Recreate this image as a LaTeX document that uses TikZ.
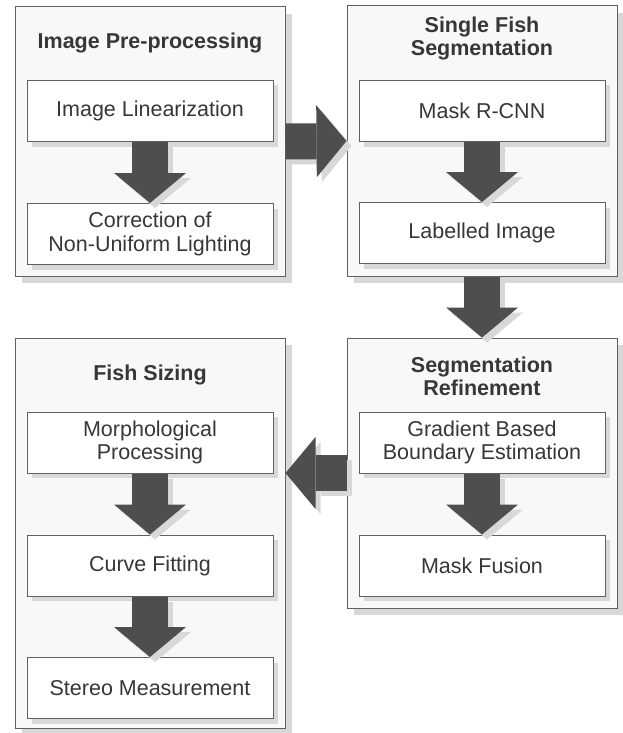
\documentclass[tikz,border=0pt]{standalone}
\usepackage{fontspec}
\setmainfont{Liberation Sans}
\usetikzlibrary{arrows.meta,shadows}

\definecolor{boxline}{RGB}{96,96,96}
\definecolor{arrowfill}{RGB}{78,78,78}
\definecolor{shadowgray}{RGB}{216,216,216}
\definecolor{stagefill}{RGB}{248,248,248}
\definecolor{textgray}{RGB}{55,55,55}

\tikzset{
  stage/.style={draw=boxline, line width=1pt, fill=stagefill, minimum width=270pt, inner sep=0pt,
    drop shadow={shadow xshift=7pt, shadow yshift=-7pt, fill=shadowgray, opacity=1}},
  stepbox/.style={draw=boxline, line width=1pt, fill=white, minimum width=246pt, minimum height=61pt,
    inner sep=0pt, align=center, text=textgray, font=\fontsize{21.5}{23.5}\selectfont,
    drop shadow={shadow xshift=5pt, shadow yshift=-5pt, fill=shadowgray, opacity=1}},
  title/.style={align=center, text=textgray, font=\bfseries\fontsize{21.5}{23.5}\selectfont},
  flow/.style={line width=36pt, color=arrowfill,
    -{Triangle[width=72pt,length=30pt,line width=0pt]}},
  flowshade/.style={flow, color=shadowgray, transform canvas={shift={(5pt,-5pt)}}}
}

\begin{document}
\begin{tikzpicture}[x=1pt, y=-1pt]
    \useasboundingbox (0,0) rectangle (622,733);

    % Etapas
    \node[stage, minimum height=269pt] (pre) at (150,141.5) {};
    \node[stage, minimum height=270pt] (seg) at (482,141) {};
    \node[stage, minimum height=270pt] (ref) at (482,473) {};
    \node[stage, minimum height=390pt] (size) at (150,533) {};

    % Titulos
    \node[title] (pretitle) at (150,43) {Image Pre-processing};
    \node[title] (segtitle) at (482,38.5) {Single Fish\\Segmentation};
    \node[title] (reftitle) at (482,376.5) {Segmentation\\Refinement};
    \node[title] (sizetitle) at (150,375) {Fish Sizing};

    % Passos
    \node[stepbox] (lin) at (150,111) {Image Linearization};
    \node[stepbox] (corr) at (150,234) {Correction of\\Non-Uniform Lighting};

    \node[stepbox] (mask) at (482,111) {Mask R-CNN};
    \node[stepbox] (label) at (482,233) {Labelled Image};

    \node[stepbox] (grad) at (482,442.5) {Gradient Based\\Boundary Estimation};
    \node[stepbox] (fusion) at (482,565.5) {Mask Fusion};

    \node[stepbox] (morph) at (150,442.5) {Morphological\\Processing};
    \node[stepbox] (curve) at (150,565.5) {Curve Fitting};
    \node[stepbox] (stereo) at (150,688) {Stereo Measurement};

    \coordinate (sizein) at (ref.west -| size.east);

    % Setas (sombra primeiro)
    \foreach \a/\b in {lin.south/corr.north, mask.south/label.north, grad.south/fusion.north,
        morph.south/curve.north, curve.south/stereo.north, pre.east/seg.west,
        seg.south/ref.north, ref.west/sizein}
        \draw[flowshade] (\a) -- (\b);
    \foreach \a/\b in {lin.south/corr.north, mask.south/label.north, grad.south/fusion.north,
        morph.south/curve.north, curve.south/stereo.north, pre.east/seg.west,
        seg.south/ref.north, ref.west/sizein}
        \draw[flow] (\a) -- (\b);
\end{tikzpicture}
\end{document}
